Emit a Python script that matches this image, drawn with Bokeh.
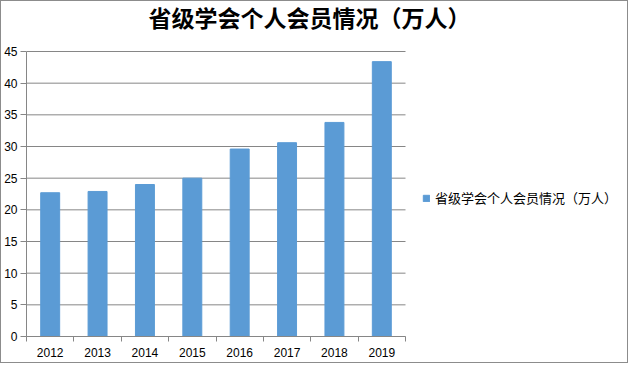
from bokeh.plotting import figure
from bokeh.models import (ColumnDataSource, FixedTicker, LinearAxis, Range1d,
                          Legend, LegendItem, Label)
from bokeh.embed import file_html
from bokeh.resources import INLINE

title_text = "省级学会个人会员情况（万人）"
series_name = "省级学会个人会员情况（万人）"
years = ["2012", "2013", "2014", "2015", "2016", "2017", "2018", "2019"]
members = [22.7, 22.9, 24.0, 25.0, 29.6, 30.6, 33.8, 43.4]
y_ticks = [0, 5, 10, 15, 20, 25, 30, 35, 40, 45]
y_max = 45

GRAY = "#868686"
BAR = "#5b9bd5"
TICK_FONT = "Liberation Sans"
CJK = "Noto Sans CJK SC"

# layout (pixels)
W, H = 628, 363
BL, BR, BT, BB = 25, 4, 0, 28
frame_w, frame_h = W - BL - BR, H - BT - BB
plot_w, plot_h = 379, 285          # chart area inside the frame
n = len(years)
x_end = n * frame_w / plot_w
y_end = y_max * frame_h / plot_h

xs = [i + 0.5 for i in range(n)]
src = ColumnDataSource(dict(x=xs, top=members, year=years))

p = figure(width=W, height=H, output_backend="svg", toolbar_location=None,
           x_range=Range1d(0, x_end), y_range=Range1d(0, y_end),
           min_border_left=BL, min_border_right=BR, min_border_top=BT,
           min_border_bottom=BB, x_axis_type=None, y_axis_type=None,
           styles={"border": "1px solid #8c8c8c"})
p.outline_line_color = None
p.background_fill_color = "white"
p.border_fill_color = "white"
p.xgrid.visible = False
p.ygrid.visible = False

# horizontal gridlines
p.segment(x0=[0] * len(y_ticks), x1=[n] * len(y_ticks), y0=y_ticks, y1=y_ticks,
          line_color=GRAY, line_width=1)

bars = p.vbar(x="x", top="top", width=0.4, source=src, color=BAR)

# y axis
yax = LinearAxis(ticker=FixedTicker(ticks=y_ticks), bounds=(0, y_max))
yax.axis_line_color = GRAY
yax.major_tick_line_color = GRAY
yax.major_tick_out = 6
yax.major_tick_in = 0
yax.minor_tick_line_color = None
yax.major_label_text_font = TICK_FONT
yax.major_label_text_font_size = "12px"
yax.major_label_text_color = "#000000"
yax.major_label_standoff = 3
p.add_layout(yax, "left")

# x axis: ticks at category boundaries
xax = LinearAxis(ticker=FixedTicker(ticks=list(range(n + 1))), bounds=(0, n))
xax.axis_line_color = GRAY
xax.major_tick_line_color = GRAY
xax.major_tick_out = 5
xax.major_tick_in = 0
xax.minor_tick_line_color = None
xax.major_label_text_font_size = "0px"
xax.major_label_text_color = None
p.add_layout(xax, "below")

# x labels at category centres
xlab = LinearAxis(ticker=FixedTicker(ticks=xs), bounds=(0, n),
                  major_label_overrides={x: y for x, y in zip(xs, years)})
xlab.axis_line_color = None
xlab.major_tick_line_color = None
xlab.minor_tick_line_color = None
xlab.major_label_text_font = TICK_FONT
xlab.major_label_text_font_size = "12px"
xlab.major_label_text_color = "#000000"
xlab.major_label_standoff = 0
p.add_layout(xlab, "below")

# title
p.add_layout(Label(x=283, y=320, x_units="screen", y_units="screen",
                   text=title_text, text_align="center", text_baseline="middle",
                   text_font=CJK, text_font_size="23px", text_font_style="bold",
                   text_color="#000000"))

legend = Legend(items=[LegendItem(label=series_name, renderers=[bars])],
                location=(396, 129), padding=0, margin=0,
                border_line_color=None, background_fill_alpha=0,
                glyph_width=8, glyph_height=8, label_standoff=5,
                label_height=16,
                label_text_font=CJK,
                label_text_font_size="13px", label_text_color="#000000")
p.add_layout(legend, "center")

open("out.html", "w").write(file_html(p, INLINE))
